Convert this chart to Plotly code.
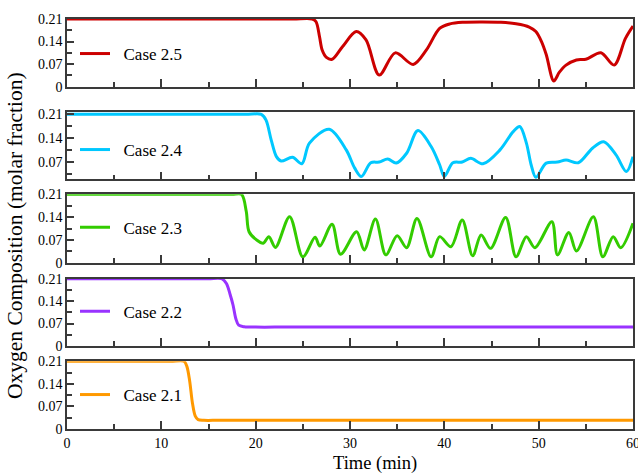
import plotly.graph_objects as go

# ---------------- data ----------------
t_25 = [0, 4, 8, 12, 16, 20, 24, 26.0, 26.4, 26.77, 27.05, 27.5, 28.1, 29.2, 30.66, 31.7, 33.1,
        34.8, 36.7, 38.1, 39.5, 40.6, 42.0, 44.0, 46.0, 47.6, 49.0, 49.7, 50.3, 50.8, 51.6, 52.2,
        52.9, 54.0, 55.0, 56.6, 58.0, 59.2, 60]
v_25 = [0.21, 0.21, 0.21, 0.21, 0.21, 0.21, 0.21, 0.21, 0.2015, 0.155, 0.114, 0.091, 0.085, 0.124,
        0.171, 0.145, 0.036, 0.105, 0.069, 0.114, 0.181, 0.195, 0.200, 0.201, 0.200, 0.195, 0.185,
        0.171, 0.14, 0.10, 0.018, 0.045, 0.067, 0.083, 0.085, 0.105, 0.067, 0.15, 0.188]

t_24 = [0, 4, 8, 12, 16, 19, 20.6, 21.1, 21.65, 22.2, 22.7, 23.9, 24.9, 25.7, 27.8, 29.6, 30.5,
        31.2, 32.2, 33.1, 34.0, 34.9, 36.0, 37.2, 38.6, 39.5, 40.0, 40.9, 41.9, 42.8, 44.1, 45.9,
        47.3, 48.0, 48.7, 49.2, 49.7, 50.8, 52.0, 52.9, 54.2, 55.7, 56.9, 58.2, 59.3, 60]
v_24 = [0.21, 0.21, 0.21, 0.21, 0.21, 0.21, 0.21, 0.193, 0.134, 0.085, 0.072, 0.083, 0.064, 0.125,
        0.166, 0.105, 0.051, 0.026, 0.067, 0.069, 0.078, 0.066, 0.095, 0.162, 0.115, 0.061, 0.026,
        0.067, 0.069, 0.080, 0.064, 0.105, 0.159, 0.174, 0.125, 0.061, 0.024, 0.066, 0.069, 0.075,
        0.067, 0.110, 0.129, 0.09, 0.041, 0.085]

t_23 = [0, 4, 8, 12, 15, 17.5, 18.5, 19.0, 19.3, 20.1, 20.8, 21.4, 22.1, 23.6, 25.0, 26.3, 26.8,
        28.1, 29.0, 30.7, 31.5, 32.7, 33.8, 35.0, 36.0, 37.1, 38.6, 39.5, 40.7, 41.9, 43.0, 43.9,
        44.9, 46.5, 47.6, 48.7, 49.6, 51.4, 52.0, 53.2, 54.0, 55.8, 56.8, 57.9, 58.7, 60]
v_23 = [0.21, 0.21, 0.21, 0.21, 0.21, 0.21, 0.21, 0.158, 0.095, 0.070, 0.060, 0.080, 0.047, 0.141,
        0.018, 0.078, 0.051, 0.118, 0.026, 0.095, 0.039, 0.134, 0.024, 0.083, 0.046, 0.136, 0.018,
        0.080, 0.049, 0.131, 0.021, 0.085, 0.044, 0.139, 0.018, 0.080, 0.046, 0.126, 0.024, 0.093,
        0.036, 0.141, 0.018, 0.080, 0.046, 0.121]

t_22 = [0, 4, 8, 12, 15, 16.4, 16.9, 17.3, 17.6, 17.9, 18.2, 18.8, 20, 23, 26, 29, 32, 35, 38,
        41, 44, 47, 50, 53, 56, 60]
v_22 = [0.21, 0.21, 0.21, 0.21, 0.21, 0.21, 0.195, 0.16, 0.128, 0.085, 0.065, 0.060, 0.059, 0.059,
        0.059, 0.059, 0.059, 0.059, 0.059, 0.059, 0.059, 0.059, 0.059, 0.059, 0.059, 0.059]

t_21 = [0, 4, 8, 11, 12.4, 12.7, 13.0, 13.3, 13.6, 13.9, 14.5, 16, 19, 22, 25, 28, 31, 34, 37,
        40, 43, 46, 49, 52, 55, 58, 60]
v_21 = [0.21, 0.21, 0.21, 0.21, 0.21, 0.195, 0.15, 0.08, 0.04, 0.029, 0.027, 0.027, 0.027, 0.027,
        0.027, 0.027, 0.027, 0.027, 0.027, 0.027, 0.027, 0.027, 0.027, 0.027, 0.027, 0.027, 0.027]

case_names = ["Case 2.5", "Case 2.4", "Case 2.3", "Case 2.2", "Case 2.1"]
colors = ["#CC0000", "#00C8FF", "#33CC00", "#9933FF", "#FF9900"]
series_t = [t_25, t_24, t_23, t_22, t_21]
series_v = [v_25, v_24, v_23, v_22, v_21]

y_tickvals = [0, 0.07, 0.14, 0.21]
y_ticktext = ["0", "0.07", "0.14", "0.21"]
x_tickvals = [0, 10, 20, 30, 40, 50, 60]

# ---------------- layout ----------------
W, H = 638, 474
ml, mr, mt, mb = 67, 5, 19, 45
ph = H - mt - mb
def fy(py):
    return (H - mb - py) / ph
def fx(px):
    return (px - ml) / (W - ml - mr)

panel_px = [(19, 86.7), (112, 179.3), (194.3, 262.7), (278.7, 346), (361.3, 429)]
y_ranges = [[0, 0.21], [0.018, 0.217], [0, 0.21], [0, 0.21], [0, 0.21]]
legend_py = [54, 150, 227.7, 311.7, 395]

FONT = "Liberation Serif"
AX = "#3a3a3a"

fig = go.Figure()
layout = dict(
    width=W, height=H,
    margin=dict(l=ml, r=mr, t=mt, b=mb, autoexpand=False),
    paper_bgcolor="white", plot_bgcolor="white",
    font=dict(family=FONT, size=14, color="black"),
    showlegend=True,
)

for i in range(5):
    n = i + 1
    xa = "x" if n == 1 else f"x{n}"
    ya = "y" if n == 1 else f"y{n}"
    leg = "legend" if n == 1 else f"legend{n}"
    fig.add_trace(go.Scatter(
        x=series_t[i], y=series_v[i], mode="lines", name="\u00a0\u00a0" + case_names[i],
        line=dict(color=colors[i], width=3, shape="spline", smoothing=0.9),
        xaxis=xa, yaxis=ya, legend=leg,
    ))
    top, bot = panel_px[i]
    layout[f"xaxis{n}"] = dict(
        domain=[0, 1], anchor=ya, range=[0, 60], automargin=False,
        ticklabeloverflow="allow",
        tickvals=x_tickvals, ticks="inside", ticklen=8, tickwidth=1.5, tickcolor=AX,
        minor=dict(dtick=5, tick0=0, ticks="inside", ticklen=5, tickwidth=1.5, tickcolor=AX),
        showticklabels=(n == 5), tickfont=dict(size=14, family=FONT, color="black"),
        showline=True, linecolor=AX, linewidth=1.5, mirror=True,
        showgrid=False, zeroline=False,
    )
    layout[f"yaxis{n}"] = dict(
        domain=[fy(bot), fy(top)], anchor=xa, range=y_ranges[i], automargin=False,
        tickvals=y_tickvals, ticktext=y_ticktext,
        ticks="inside", ticklen=7, tickwidth=1.5, tickcolor=AX,
        minor=dict(dtick=0.035, tick0=0, ticks="inside", ticklen=5, tickwidth=1.5, tickcolor=AX),
        tickfont=dict(size=14, family=FONT, color="black"),
        showline=True, linecolor=AX, linewidth=1.5, mirror=True,
        showgrid=False, zeroline=False,
    )
    layout[leg] = dict(
        x=fx(75), y=fy(legend_py[i]), xanchor="left", yanchor="middle",
        bgcolor="rgba(0,0,0,0)", borderwidth=0,
        font=dict(size=17, family=FONT, color="black"),
    )

layout["annotations"] = [
    dict(text="Oxygen Composition (molar fraction)", xref="paper", yref="paper",
         x=fx(15), y=fy(236), xanchor="center", yanchor="middle", textangle=-90,
         showarrow=False, font=dict(size=21.5, family=FONT, color="black")),
    dict(text="Time (min)", xref="paper", yref="paper",
         x=fx(375), y=fy(463), xanchor="center", yanchor="middle",
         showarrow=False, font=dict(size=18.5, family=FONT, color="black")),
]

fig.update_layout(**layout)
fig.write_html("out.html")
